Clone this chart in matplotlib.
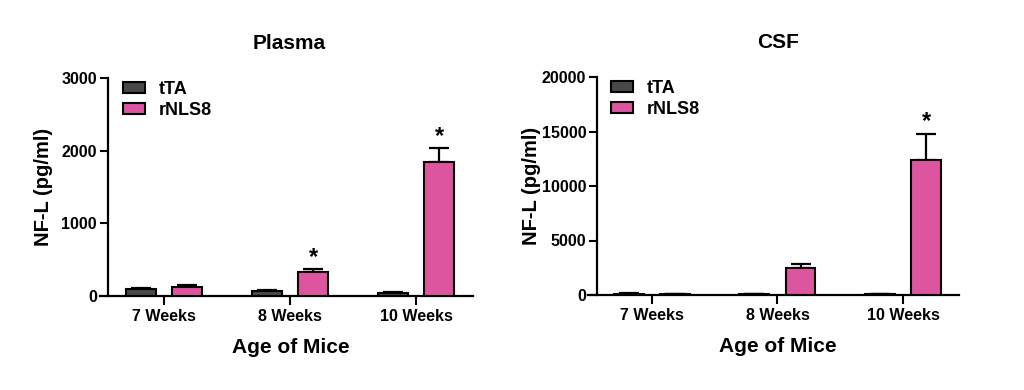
import matplotlib
matplotlib.use("Agg")
import matplotlib.pyplot as plt
import numpy as np

plt.rcParams['font.family'] = ['Liberation Sans', 'DejaVu Sans']
plt.rcParams['font.weight'] = 'bold'

# ---- data ----
ages = ["7 Weeks", "8 Weeks", "10 Weeks"]
groups = ["tTA", "rNLS8"]

plasma_tta = [90, 65, 40]
plasma_tta_err = [20, 20, 15]
plasma_rnls8 = [125, 335, 1850]
plasma_rnls8_err = [25, 30, 180]
plasma_sig = [False, True, True]

csf_tta = [110, 60, 50]
csf_tta_err = [50, 20, 15]
csf_rnls8 = [60, 2500, 12400]
csf_rnls8_err = [30, 320, 2400]
csf_sig = [False, False, True]

plasma_yticks = [0, 1000, 2000, 3000]
csf_yticks = [0, 5000, 10000, 15000, 20000]

colors = {"tTA": "#484848", "rNLS8": "#DD559F"}

W, H = 1024, 390
fig = plt.figure(figsize=(W / 100, H / 100), dpi=100)


def px_axes(x0, x1, ytop, ybot):
    return fig.add_axes([x0 / W, (H - ybot) / H, (x1 - x0) / W, (ybot - ytop) / H])


def draw(ax, tta, tta_err, rn, rn_err, sig, yticks, title, xlim, spine_x,
         ylabel_x, title_x, xlabel_x):
    x = np.arange(len(ages))
    off = 0.183
    w = 0.238
    kw = dict(width=w, edgecolor='black', linewidth=1.5, zorder=3,
              error_kw=dict(ecolor='black', elinewidth=1.6, capsize=7, capthick=1.6, zorder=2))
    ax.bar(x - off, tta, color=colors["tTA"], label="tTA",
           yerr=[np.zeros(len(tta)), tta_err], **kw)
    ax.bar(x + off, rn, color=colors["rNLS8"], label="rNLS8",
           yerr=[np.zeros(len(rn)), rn_err], **kw)
    for xi, m, e, s in zip(x, rn, rn_err, sig):
        if s:
            ax.annotate("*", (xi + off, m + e), xytext=(0, 4), textcoords='offset points',
                        ha='center', va='baseline', fontsize=17, fontweight='bold')
    ax.set_xlim(*xlim)
    ax.set_ylim(yticks[0], yticks[-1])
    ax.set_yticks(yticks)
    ax.set_xticks(x)
    ax.set_xticklabels(ages, fontsize=11.5)
    ax.tick_params(axis='y', labelsize=11.5, length=6, width=1.5, pad=2)
    ax.tick_params(axis='x', length=6.5, width=1.5, pad=3)
    for s in ['top', 'right']:
        ax.spines[s].set_visible(False)
    ax.spines['left'].set_position(('data', spine_x))
    ax.spines['left'].set_linewidth(1.6)
    ax.spines['bottom'].set_linewidth(1.6)
    ax.set_ylabel("NF-L (pg/ml)", fontsize=14.5, fontweight='bold')
    ax.yaxis.set_label_coords(ylabel_x, 0.5)
    ax.set_xlabel("Age of Mice", fontsize=15, fontweight='bold')
    ax.xaxis.set_label_coords(xlabel_x, -0.234)
    ax.xaxis.label.set_va('center')
    ax.set_title(title, fontsize=15, fontweight='bold', x=title_x, y=1.16, va='center', pad=0)
    ax.legend(loc='upper left', bbox_to_anchor=(0.062, 0.985), frameon=False,
              fontsize=13, handlelength=1.22, handleheight=0.55, handletextpad=0.78,
              labelspacing=0.22, borderpad=0, borderaxespad=0)


ax1 = px_axes(100, 473, 78, 296)
draw(ax1, plasma_tta, plasma_tta_err, plasma_rnls8, plasma_rnls8_err, plasma_sig,
     plasma_yticks, "Plasma", (-0.508, 2.452), -0.444, -0.126, 0.507, 0.511)

ax2 = px_axes(588, 959, 77, 295)
draw(ax2, csf_tta, csf_tta_err, csf_rnls8, csf_rnls8_err, csf_sig,
     csf_yticks, "CSF", (-0.505, 2.442), -0.43, -0.128, 0.512, 0.512)

fig.savefig("out.png", dpi=100)
